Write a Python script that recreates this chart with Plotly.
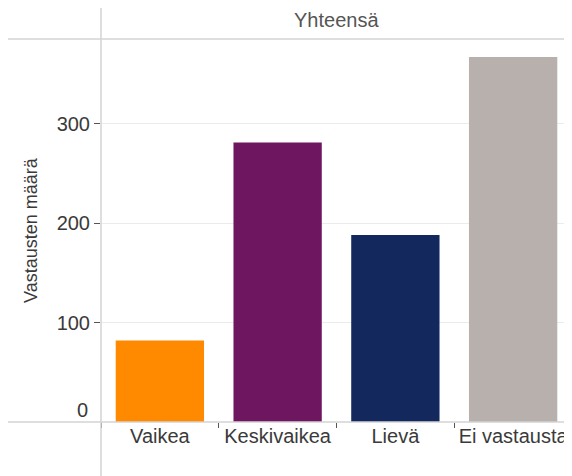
import plotly.graph_objects as go

categories = ["Vaikea", "Keskivaikea", "Lievä", "Ei vastausta"]
values = [82, 281, 188, 367]
bar_colors = ["#FF8A00", "#6F1660", "#13295E", "#B8B0AC"]
ytick_vals = [100, 200, 300]
panel_title = "Yhteensä"
y_title = "Vastausten määrä"

FONT = "Liberation Sans, Arial, sans-serif"
TXT = "#3a3a3a"

OFF = 8  # page body margin
W, H = 564, 468
L, R, T, B = 93, 0, 32, 54
pw = W - L - R
ph = H - T - B

def px_x(sx):
    return (sx - OFF - L) / pw

def px_y(sy):
    return (H - B - (sy - OFF)) / ph

fig = go.Figure(go.Bar(
    x=categories, y=values,
    marker=dict(color=bar_colors, line=dict(width=0)),
    width=0.75,
))

line_col = "#d3d3d3"
shapes = [
    dict(type="line", xref="paper", yref="paper", x0=px_x(8), x1=px_x(571), y0=px_y(39), y1=px_y(39),
         line=dict(color=line_col, width=1.5)),
    dict(type="line", xref="paper", yref="paper", x0=px_x(8), x1=px_x(571), y0=0, y1=0,
         line=dict(color=line_col, width=1.5)),
    dict(type="line", xref="paper", yref="paper", x0=0, x1=0, y0=px_y(476), y1=px_y(8),
         line=dict(color=line_col, width=1.5)),
    dict(type="line", xref="paper", yref="paper", x0=px_x(571), x1=px_x(571), y0=px_y(476), y1=px_y(8),
         line=dict(color="#e3e3e3", width=1)),
]

annotations = [
    dict(text=panel_title, xref="paper", yref="paper", x=0.5, y=px_y(20),
         xanchor="center", yanchor="middle", showarrow=False,
         font=dict(family=FONT, size=20, color="#555555")),
    dict(text=y_title, xref="paper", yref="paper", x=px_x(31), y=px_y(230),
         xanchor="center", yanchor="middle", textangle=-90, showarrow=False,
         font=dict(family=FONT, size=18, color=TXT)),
    dict(text="0", xref="paper", yref="y", x=px_x(90), y=0, yshift=12,
         xanchor="right", yanchor="middle", showarrow=False,
         font=dict(family=FONT, size=20, color=TXT)),
]

fig.update_layout(
    width=W, height=H,
    margin=dict(l=L, r=R, t=T, b=B, pad=0, autoexpand=False),
    paper_bgcolor="white", plot_bgcolor="white",
    showlegend=False,
    bargap=0.25,
    shapes=shapes,
    annotations=annotations,
    font=dict(family=FONT, size=20, color=TXT),
)
fig.update_xaxes(
    showline=False, showgrid=False, zeroline=False, automargin=False, tickangle=0,
    ticks="outside", tickson="boundaries", ticklen=5, tickwidth=1, tickcolor="#555555",
    tickfont=dict(family=FONT, size=20, color=TXT),
)
fig.update_yaxes(
    range=[0, 384], tickvals=ytick_vals, ticktext=[str(v) for v in ytick_vals],
    showline=False, zeroline=False, showgrid=True, gridcolor="#ebebeb", gridwidth=1,
    automargin=False,
    ticks="outside", ticklen=6, tickwidth=1, tickcolor="#555555",
    tickfont=dict(family=FONT, size=20, color=TXT),
)

fig.write_html("out.html")
